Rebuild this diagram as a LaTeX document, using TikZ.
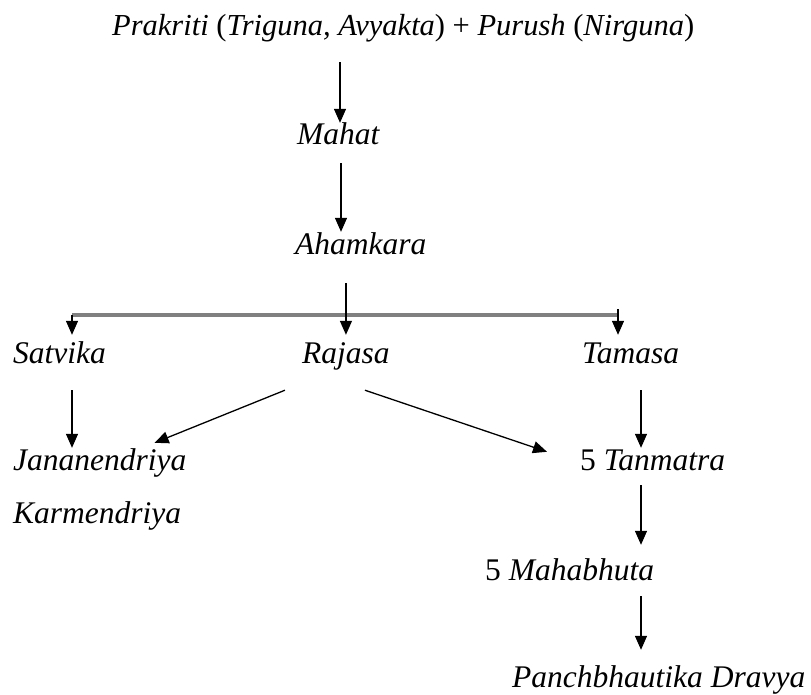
\documentclass[tikz,border=0pt]{standalone}
\usepackage{fontspec}
\setmainfont{Liberation Serif}
\usetikzlibrary{arrows.meta,calc}
\begin{document}
\begin{tikzpicture}[x=1pt,y=-1pt,
  lbl/.style={inner sep=0pt, text height=21pt, text depth=7pt, font=\fontsize{31.5}{36}\selectfont\itshape},
  toplbl/.style={lbl, font=\fontsize{30.5}{35}\selectfont\itshape},
  arr/.style={line width=1.3pt, -{Triangle[width=12pt,length=14pt]}},
  bar/.style={line width=3.4pt, draw=black!50},
]
\useasboundingbox (0,0) rectangle (811,694);
% texts
\node[toplbl, anchor=base west] (top) at (112,35) {Prakriti \textup{(}Triguna, Avyakta\textup{) +} Purush \textup{(}Nirguna\textup{)}};
\node[lbl, anchor=base west] (mahat) at (297,144) {Mahat};
\node[lbl, anchor=base west] (aham) at (295,254) {Ahamkara};
\node[lbl, anchor=base west] (satvika) at (13,363) {Satvika};
\node[lbl, anchor=base west] (rajasa) at (302,363) {Rajasa};
\node[lbl, anchor=base west] (tamasa) at (582,363) {Tamasa};
\node[lbl, anchor=base west] (jana) at (13,470) {Jananendriya};
\node[lbl, anchor=base west] (karma) at (13,523) {Karmendriya};
\node[lbl, anchor=base west] (tanmatra) at (580,470) {\textup{5} Tanmatra};
\node[lbl, anchor=base west] (maha) at (485,580) {\textup{5} Mahabhuta};
\node[lbl, anchor=base west] (panch) at (512,687) {Panchbhautika Dravya};
% helper coordinates
\coordinate (bl) at (72,315);
\coordinate (br) at (618,315);
\coordinate (rc) at (641,0);
\coordinate (c1) at (340,0);
\coordinate (c2) at (341,0);
% connectors
\draw[arr, shorten <=20pt, shorten >=0pt] (c1 |- top.south) -- (c1 |- mahat.north);
\draw[arr, shorten <=12pt, shorten >=1pt] (c2 |- mahat.south) -- (c2 |- aham.north);
\draw[bar] (bl) -- (br);
\draw[line width=1.3pt] (br) -- ++(0,-6);
\draw[arr, shorten <=22pt, shorten >=7pt] (rajasa.north |- aham.south) -- (rajasa.north);
\draw[arr, shorten >=7pt] (bl) -- (bl |- satvika.north);
\draw[arr, shorten >=7pt] (br) -- (br |- tamasa.north);
\draw[arr, shorten <=20pt, shorten >=1pt] (bl |- satvika.south) -- (bl |- jana.north);
\draw[arr] ($(rajasa.south)+(-61,20)$) -- ($(jana.north east)+(-32,-6)$);
\draw[arr] ($(rajasa.south)+(19,20)$) -- ($(tanmatra.north west)+(-33,3)$);
\draw[arr, shorten <=20pt, shorten >=1pt] (rc |- tamasa.south) -- (rc |- tanmatra.north);
\draw[arr, shorten <=8pt, shorten >=14pt] (rc |- tanmatra.south) -- (rc |- maha.north);
\draw[arr, shorten <=9pt, shorten >=16pt] (rc |- maha.south) -- (rc |- panch.north);
\end{tikzpicture}
\end{document}
